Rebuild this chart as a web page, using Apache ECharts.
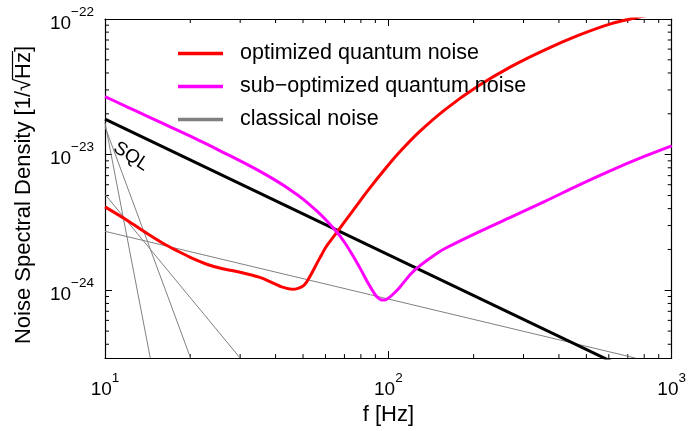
<!DOCTYPE html>
<html>
<head>
<meta charset="utf-8">
<script src="https://cdn.jsdelivr.net/npm/echarts@6/dist/echarts.min.js"></script>
<style>
html,body{margin:0;padding:0;background:#fff;}
#main{width:689px;height:431px;}
</style>
</head>
<body>
<div id="main"></div>
<script>
// ---- data, values in 1/sqrt(Hz) ----
const X_MIN = 10, X_MAX = 1000;
const Y_MIN = 3.1623e-25, Y_MAX = 1e-22;

const redName = 'optimized quantum noise';
const redF = [10,12,14,16,18,20,23,26,30,35,40,42,46,48,50,51,52,54,56,58,60,63,66,75,85,100,110,128,159,208,272,357,468,612,740,1000];
const redV = [4.12e-24,3.27e-24,2.64e-24,2.22e-24,1.95e-24,1.75e-24,1.55e-24,1.44e-24,1.36e-24,1.25e-24,1.11e-24,1.06e-24,1.016e-24,1.033e-24,1.076e-24,1.122e-24,1.189e-24,1.368e-24,1.585e-24,1.81e-24,2.06e-24,2.37e-24,2.70e-24,3.87e-24,5.50e-24,8.39e-24,1.054e-23,1.459e-23,2.158e-23,3.214e-23,4.477e-23,5.929e-23,7.568e-23,9.247e-23,1.016e-22,1.164e-22];

const magName = 'sub\u2212optimized quantum noise';
const magF = [10,12,14,16,18,20,23,26,30,35,40,45,50,56,60,66,70,75,80,85,90,93,95,97,100,105,110,120,130,150,159,208,272,357,468,612,800,1000];
const magV = [2.68e-23,2.244e-23,1.932e-23,1.698e-23,1.514e-23,1.368e-23,1.189e-23,1.045e-23,8.99e-24,7.59e-24,6.46e-24,5.52e-24,4.70e-24,3.83e-24,3.33e-24,2.67e-24,2.26e-24,1.80e-24,1.42e-24,1.12e-24,9.23e-25,8.65e-25,8.47e-25,8.47e-25,8.75e-25,9.55e-25,1.059e-24,1.318e-24,1.531e-24,1.897e-24,2.042e-24,2.685e-24,3.475e-24,4.519e-24,5.943e-24,7.67e-24,9.70e-24,1.161e-23];

const sqlF = [10, 1000];
const sqlV = [1.83e-23, 1.83e-25];
const sqlLabelF = 12.35, sqlLabelV = 9.7e-24;

const clsName = 'classical noise';
const cls1F = [10, 14.45],  cls1V = [1.72e-23, 3.1623e-25];
const cls2F = [10, 20.05],  cls2V = [1.61e-23, 3.1623e-25];
const cls3F = [10, 30],     cls3V = [5.09e-24, 3.1623e-25];
const cls4F = [10, 746],    cls4V = [2.72e-24, 3.1623e-25];

const xMinorTicks = [20,30,40,50,60,70,80,90,200,300,400,500,600,700,800,900];
const yMinorTicks = [4e-25,5e-25,6e-25,7e-25,8e-25,9e-25,2e-24,3e-24,4e-24,5e-24,6e-24,7e-24,8e-24,9e-24,2e-23,3e-23,4e-23,5e-23,6e-23,7e-23,8e-23,9e-23];

// ---- chart ----
// The y axis works in units of 1e-25 (ECharts' log scale rounds tiny values to 0).
const Y_EXP0 = -25;
const YS = 1e25;
const ys = v => v * YS;
const FONT = '"Liberation Sans", Arial, sans-serif';
const pair = (a, b) => a.map((v, i) => [v, ys(b[i])]);

function powLabel(v, off) {
  const l = Math.log10(v);
  const e = Math.round(l);
  if (Math.abs(l - e) > 0.01) return '';
  const ee = e + off;
  const s = ee < 0 ? '\u2212' + (-ee) : String(ee);
  return '{b|10}{s|' + s + '}';
}
const richLbl = {
  b: {fontSize: 19, fontFamily: FONT, color: '#000', lineHeight: 28, verticalAlign: 'bottom'},
  s: {fontSize: 13.5, fontFamily: FONT, color: '#000', verticalAlign: 'top'}
};

const chart = echarts.init(document.getElementById('main'), null, {renderer: 'canvas'});

// y-axis name with overline over Hz
const nameSize = 22;
const cv = document.createElement('canvas').getContext('2d');
cv.font = nameSize + 'px ' + FONT;
const yName = 'Noise Spectral Density [1/\u221AHz]';
const wAll = cv.measureText(yName).width;
const wPre = cv.measureText('Noise Spectral Density [1/\u221A').width;
const wHz = cv.measureText('Hz').width;

function tickLine(p0, p1) {
  return {type: 'line', shape: {x1: p0[0], y1: p0[1], x2: p1[0], y2: p1[1]}, style: {stroke: '#000', lineWidth: 1}};
}

const axisCommon = {
  type: 'log', logBase: 10,
  axisLine: {show: true, onZero: false, lineStyle: {color: '#000', width: 1.2}},
  axisTick: {show: true, inside: true, length: 7, lineStyle: {color: '#000', width: 1}},
  splitLine: {show: false},
  minorTick: {show: false},
  minorSplitLine: {show: false}
};

const lineBase = {type: 'line', showSymbol: false, symbol: 'none', xAxisIndex: 0, yAxisIndex: 0, clip: true, silent: true};

const option = {
  animation: false,
  backgroundColor: '#fff',
  grid: {left: 105, right: 15, top: 19, bottom: 60, containLabel: false},
  xAxis: [
    Object.assign({}, axisCommon, {
      position: 'bottom', min: X_MIN, max: X_MAX,
      axisLabel: {show: true, formatter: v => powLabel(v, 0), rich: richLbl, margin: 13},
      name: 'f [Hz]', nameLocation: 'middle', nameGap: 43,
      nameTextStyle: {fontSize: nameSize, fontFamily: FONT, color: '#000'}
    }),
    Object.assign({}, axisCommon, {
      position: 'top', min: X_MIN, max: X_MAX, axisLabel: {show: false}
    })
  ],
  yAxis: [
    Object.assign({}, axisCommon, {
      position: 'left', min: ys(Y_MIN), max: ys(Y_MAX),
      axisLabel: {show: true, formatter: v => powLabel(v, Y_EXP0), rich: richLbl, margin: 11}
    }),
    Object.assign({}, axisCommon, {
      position: 'right', min: ys(Y_MIN), max: ys(Y_MAX), axisLabel: {show: false}
    })
  ],
  legend: {
    show: true, orient: 'vertical', left: 173, top: 37.5,
    data: [redName, magName, clsName],
    icon: 'rect', itemWidth: 45, itemHeight: 3.5, itemGap: 11,
    textStyle: {fontSize: 21.5, fontFamily: FONT, color: '#000', lineHeight: 22, padding: [0, 0, 0, 12]},
    selectedMode: false
  },
  graphic: [{
    type: 'group', x: 24, y: 195, rotation: Math.PI / 2,
    children: [
      {type: 'text', x: -wAll / 2, y: 0,
       style: {text: yName, fontSize: nameSize, fontFamily: FONT, fill: '#000', align: 'left', verticalAlign: 'middle'}},
      {type: 'line', shape: {x1: -wAll / 2 + wPre - 1, y1: -11.5, x2: -wAll / 2 + wPre + wHz + 1, y2: -11.5},
       style: {stroke: '#000', lineWidth: 1.2}}
    ]
  }],
  series: [
    Object.assign({}, lineBase, {name: clsName, data: pair(cls1F, cls1V), itemStyle: {color: '#808080'}, lineStyle: {color: '#808080', width: 1}}),
    Object.assign({}, lineBase, {name: clsName, data: pair(cls2F, cls2V), itemStyle: {color: '#808080'}, lineStyle: {color: '#808080', width: 1}}),
    Object.assign({}, lineBase, {name: clsName, data: pair(cls3F, cls3V), itemStyle: {color: '#808080'}, lineStyle: {color: '#808080', width: 1}}),
    Object.assign({}, lineBase, {name: clsName, data: pair(cls4F, cls4V), itemStyle: {color: '#808080'}, lineStyle: {color: '#808080', width: 1}}),
    Object.assign({}, lineBase, {
      name: 'SQL', data: pair(sqlF, sqlV), itemStyle: {color: '#000'}, lineStyle: {color: '#000', width: 3},
      markPoint: {
        symbol: 'circle', symbolSize: 0, silent: true,
        label: {show: true, position: 'inside', formatter: 'SQL', rotate: -33, fontSize: 19, fontFamily: FONT, color: '#000'},
        data: [{coord: [sqlLabelF, ys(sqlLabelV)]}]
      }
    }),
    Object.assign({}, lineBase, {name: redName, data: pair(redF, redV), smooth: 0.3, itemStyle: {color: '#ff0000'}, lineStyle: {color: '#ff0000', width: 3}}),
    Object.assign({}, lineBase, {name: magName, data: pair(magF, magV), smooth: 0.3, itemStyle: {color: '#ff00ff'}, lineStyle: {color: '#ff00ff', width: 3}}),
    {
      type: 'custom', silent: true, xAxisIndex: 0, yAxisIndex: 0, clip: false,
      data: xMinorTicks.map(f => [f, ys(Y_MIN)]),
      renderItem: function (params, api) {
        const f = api.value(0);
        const b = api.coord([f, ys(Y_MIN)]);
        const t = api.coord([f, ys(Y_MAX)]);
        return {type: 'group', children: [tickLine(b, [b[0], b[1] - 4]), tickLine(t, [t[0], t[1] + 4])]};
      }
    },
    {
      type: 'custom', silent: true, xAxisIndex: 0, yAxisIndex: 0, clip: false,
      data: yMinorTicks.map(v => [X_MIN, ys(v)]),
      renderItem: function (params, api) {
        const v = api.value(1);
        const l = api.coord([X_MIN, v]);
        const r = api.coord([X_MAX, v]);
        return {type: 'group', children: [tickLine(l, [l[0] + 4, l[1]]), tickLine(r, [r[0] - 4, r[1]])]};
      }
    }
  ]
};
chart.setOption(option);
</script>
</body>
</html>
